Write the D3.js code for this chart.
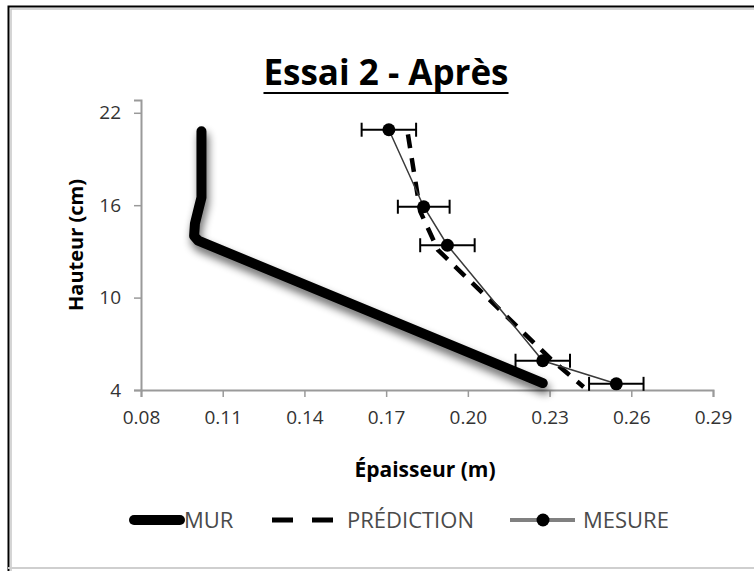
<!DOCTYPE html>
<html>
<head>
<meta charset="utf-8">
<script src="https://cdn.jsdelivr.net/npm/d3@7"></script>
<style>
  body { margin: 0; background: #fff; }
  text { font-family: "Open Sans", "DejaVu Sans", sans-serif; }
</style>
</head>
<body>
<script>
var width = 754,
    height = 571;

// data
var murEpaisseur = [0.1022, 0.1022, 0.1012, 0.0998, 0.0995, 0.1010, 0.2275];
var murHauteur = [20.8, 16.5, 15.8, 14.8, 14.0, 13.7, 4.45];

var predictionEpaisseur = [0.178, 0.1825, 0.189, 0.2305, 0.2425];
var predictionHauteur = [20.6, 15.6, 13.1, 6.0, 4.2];

var mesureEpaisseur = [0.171, 0.1838, 0.1925, 0.2275, 0.2545];
var mesureHauteur = [20.9, 15.9, 13.4, 5.9, 4.4];
var mesureErreur = [0.01, 0.0095, 0.01, 0.01, 0.01];

var xTicks = [0.08, 0.11, 0.14, 0.17, 0.20, 0.23, 0.26, 0.29];
var yTicks = [4, 10, 16, 22];

var legendLabels = ['MUR', 'PRÉDICTION', 'MESURE'];

var svg = d3.select('body')
    .append('svg')
    .attr('width', width)
    .attr('height', height);

var defs = svg.append('defs');
var shadow = defs.append('filter')
    .attr('id', 'shadow')
    .attr('x', '-20%').attr('y', '-20%')
    .attr('width', '140%').attr('height', '140%');
shadow.append('feGaussianBlur').attr('in', 'SourceAlpha').attr('stdDeviation', 4).attr('result', 'b');
shadow.append('feOffset').attr('in', 'b').attr('dx', 2).attr('dy', 6).attr('result', 'o');
shadow.append('feComponentTransfer').attr('in', 'o').attr('result', 's')
    .append('feFuncA').attr('type', 'linear').attr('slope', 0.6);
var merge = shadow.append('feMerge');
merge.append('feMergeNode').attr('in', 's');
merge.append('feMergeNode').attr('in', 'SourceGraphic');

svg.append('rect').attr('width', width).attr('height', height).attr('fill', '#fff');

// frame
svg.append('path')
    .attr('d', 'M11,571 V9 H754')
    .attr('fill', 'none').attr('stroke', '#c8c8c8').attr('stroke-width', 1.5);
svg.append('path')
    .attr('d', 'M8.5,571 V6.5 H754')
    .attr('fill', 'none').attr('stroke', '#000').attr('stroke-width', 2);
svg.append('line')
    .attr('x1', 8).attr('x2', 754).attr('y1', 568).attr('y2', 568)
    .attr('stroke', '#cfcfcf').attr('stroke-width', 2);

var x = d3.scaleLinear().domain([0.08, 0.29]).range([141, 713]);
var y = d3.scaleLinear().domain([4, 22.83]).range([390, 100]);

// axes
var xAxis = svg.append('g')
    .attr('transform', 'translate(0,390)')
    .call(d3.axisBottom(x).tickValues(xTicks).tickSize(7).tickPadding(14)
        .tickFormat(d3.format('.2f')));
var yAxis = svg.append('g')
    .attr('transform', 'translate(141,0)')
    .call(d3.axisLeft(y).tickValues(yTicks).tickSize(7).tickPadding(13));

[xAxis, yAxis].forEach(function (g) {
    g.select('.domain').attr('stroke', '#9a9a9a').attr('stroke-width', 2);
    g.selectAll('.tick line').attr('stroke', '#9a9a9a').attr('stroke-width', 1.5);
    g.selectAll('.tick text')
        .attr('fill', '#333')
        .style('font-size', '19px')
        .style('font-family', '"Open Sans", sans-serif');
});

// MUR
var murData = murEpaisseur.map(function (d, i) { return [d, murHauteur[i]]; });
var line = d3.line()
    .x(function (d) { return x(d[0]); })
    .y(function (d) { return y(d[1]); });

svg.append('path')
    .datum(murData)
    .attr('d', line)
    .attr('fill', 'none')
    .attr('stroke', '#000')
    .attr('stroke-width', 10)
    .attr('stroke-linejoin', 'round')
    .attr('stroke-linecap', 'round')
    .attr('filter', 'url(#shadow)');

// PRÉDICTION
var predData = predictionEpaisseur.map(function (d, i) { return [d, predictionHauteur[i]]; });
svg.append('path')
    .datum(predData)
    .attr('d', line)
    .attr('fill', 'none')
    .attr('stroke', '#000')
    .attr('stroke-width', 4.5)
    .attr('stroke-dasharray', '14,10');

// MESURE
var mesData = mesureEpaisseur.map(function (d, i) {
    return { x: d, y: mesureHauteur[i], e: mesureErreur[i] };
});
svg.append('path')
    .datum(mesData.map(function (d) { return [d.x, d.y]; }))
    .attr('d', line)
    .attr('fill', 'none')
    .attr('stroke', '#3a3a3a')
    .attr('stroke-width', 1.5);

var err = svg.append('g').selectAll('g')
    .data(mesData)
    .enter()
    .append('g');
err.append('line')
    .attr('x1', function (d) { return x(d.x - d.e); })
    .attr('x2', function (d) { return x(d.x + d.e); })
    .attr('y1', function (d) { return y(d.y); })
    .attr('y2', function (d) { return y(d.y); })
    .attr('stroke', '#000').attr('stroke-width', 2);
[-1, 1].forEach(function (s) {
    err.append('line')
        .attr('x1', function (d) { return x(d.x + s * d.e); })
        .attr('x2', function (d) { return x(d.x + s * d.e); })
        .attr('y1', function (d) { return y(d.y) - 7; })
        .attr('y2', function (d) { return y(d.y) + 7; })
        .attr('stroke', '#000').attr('stroke-width', 2);
});
svg.append('g').selectAll('circle')
    .data(mesData)
    .enter()
    .append('circle')
    .attr('cx', function (d) { return x(d.x); })
    .attr('cy', function (d) { return y(d.y); })
    .attr('r', 6.5)
    .attr('fill', '#000');

// titles
var title = svg.append('text')
    .attr('x', 386).attr('y', 85)
    .attr('text-anchor', 'middle')
    .style('font-size', '35px').style('font-weight', 'bold')
    .attr('fill', '#000')
    .text('Essai 2 - Après');
var tw = title.node().getComputedTextLength();
svg.append('line')
    .attr('x1', 386 - tw / 2).attr('x2', 386 + tw / 2)
    .attr('y1', 93).attr('y2', 93)
    .attr('stroke', '#000').attr('stroke-width', 2);

svg.append('text')
    .attr('transform', 'translate(83,245) rotate(-90)')
    .attr('text-anchor', 'middle')
    .style('font-size', '20px').style('font-weight', 'bold')
    .attr('fill', '#000')
    .text('Hauteur (cm)');

svg.append('text')
    .attr('x', 425).attr('y', 477)
    .attr('text-anchor', 'middle')
    .style('font-size', '21px').style('font-weight', 'bold')
    .attr('fill', '#000')
    .text('Épaisseur (m)');

// legend
var ly = 520;
var legend = svg.append('g');
legend.append('line')
    .attr('x1', 134).attr('x2', 180).attr('y1', ly).attr('y2', ly)
    .attr('stroke', '#000').attr('stroke-width', 10).attr('stroke-linecap', 'round');
legend.append('line')
    .attr('x1', 272).attr('x2', 334).attr('y1', ly).attr('y2', ly)
    .attr('stroke', '#000').attr('stroke-width', 5).attr('stroke-dasharray', '21,19');
legend.append('line')
    .attr('x1', 510).attr('x2', 575).attr('y1', ly).attr('y2', ly)
    .attr('stroke', '#808080').attr('stroke-width', 4);
legend.append('circle')
    .attr('cx', 543).attr('cy', ly).attr('r', 6.5).attr('fill', '#000');

var legendX = [184, 347, 583];
legend.selectAll('text')
    .data(legendLabels)
    .enter()
    .append('text')
    .attr('x', function (d, i) { return legendX[i]; })
    .attr('y', ly + 8)
    .style('font-size', '22px')
    .attr('fill', '#4a4a4a')
    .text(function (d) { return d; });
</script>
</body>
</html>
